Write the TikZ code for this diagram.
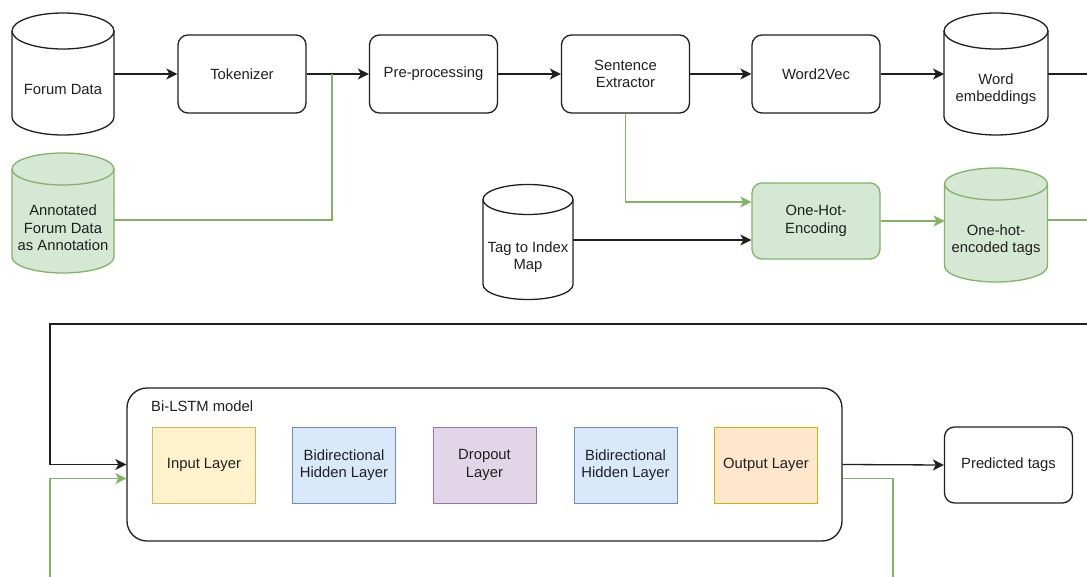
\documentclass[tikz,border=0pt]{standalone}
\usepackage{fontspec}
\setmainfont{Liberation Sans}
\usetikzlibrary{arrows.meta,calc}

\definecolor{inkc}{HTML}{1F1F1F}
\definecolor{greenfill}{HTML}{D5E8D4}
\definecolor{greenline}{HTML}{82B366}
\definecolor{yelfill}{HTML}{FFF2CC}
\definecolor{yelline}{HTML}{D6B656}
\definecolor{bluefill}{HTML}{DAE8FC}
\definecolor{blueline}{HTML}{6C8EBF}
\definecolor{purfill}{HTML}{E1D5E7}
\definecolor{purline}{HTML}{9673A6}
\definecolor{orafill}{HTML}{FFE6CC}
\definecolor{oraline}{HTML}{D7B000}

\tikzset{
  every node/.style={font=\fontsize{14.8}{17.5}\selectfont, text=inkc},
  procbox/.style={draw=inkc, line width=1.3pt, rounded corners=10pt, fill=white,
    minimum width=128pt, minimum height=78pt, align=center, inner sep=2pt},
  greenbox/.style={procbox, draw=greenline, fill=greenfill},
  layerbox/.style={draw=#1line, fill=#1fill, line width=1pt,
    minimum width=103pt, minimum height=76pt, align=center, inner sep=1pt},
  cylframe/.style={minimum width=#1, inner sep=0pt, outer sep=0pt},
  cyltext/.style={align=center, inner sep=0pt},
  tipshape/.style={-{Stealth[length=11pt,width=11pt,inset=3pt]}},
  flow/.style={draw=inkc, line width=1.3pt, tipshape},
  flowplain/.style={draw=inkc, line width=1.3pt},
  gflow/.style={draw=greenline, line width=1.3pt, tipshape},
  gplain/.style={draw=greenline, line width=1.3pt},
}

% database cylinder: name, centre x, centre y, width, height, end radius, colours, text
\newcommand\dbcyl[9]{%
  \node[cylframe=#4pt, minimum height=#5pt] (#1) at (#2,#3) {};
  \path[line width=1.3pt, draw=#8, fill=#7]
    ([yshift=-#6pt]#1.north west) -- ([yshift=#6pt]#1.south west)
    arc[start angle=180, end angle=360, x radius=#4pt/2, y radius=#6pt]
    -- ([yshift=-#6pt]#1.north east)
    arc[start angle=0, end angle=180, x radius=#4pt/2, y radius=#6pt] -- cycle;
  \draw[line width=1.3pt, draw=#8]
    ([yshift=-#6pt]#1.north west)
    arc[start angle=180, end angle=360, x radius=#4pt/2, y radius=#6pt];
  \node[cyltext] at ([yshift=-15pt]#1.center) {#9};
}

\begin{document}
\begin{tikzpicture}[x=1pt, y=-1pt]
\useasboundingbox[fill=white] (0,0) rectangle (1087,577);

% ---- data sources and pre-processing chain ----
\dbcyl{fd}{63}{74}{102}{122}{18}{white}{inkc}{Forum Data}
\dbcyl{ann}{63}{213}{102}{120}{16}{greenfill}{greenline}{Annotated\\Forum Data\\as Annotation}
\node[procbox] (tok) at (242,74) {Tokenizer};
\node[procbox] (pre) at (433.5,74) {Pre-processing};
\node[procbox] (sent) at (625.5,74) {Sentence\\Extractor};
\node[procbox] (w2v) at (816,74) {Word2Vec};
\dbcyl{we}{996}{74}{104}{122}{18}{white}{inkc}{Word\\embeddings}

% ---- tag encoding ----
\dbcyl{tag}{528}{242}{90}{115}{15}{white}{inkc}{Tag to Index\\Map}
\node[greenbox, minimum height=76pt] (ohe) at (816,221) {One-Hot-\\Encoding};
\dbcyl{oht}{996}{225}{103}{114}{16}{greenfill}{greenline}{One-hot-\\encoded tags}

% ---- Bi-LSTM model ----
\node[draw=inkc, line width=1.3pt, rounded corners=20pt, fill=white,
      minimum width=715pt, minimum height=153pt] (model) at (484.5,464.5) {};
\node[anchor=west, inner sep=0pt] (mlabel) at (151,406) {Bi-LSTM model};
\node[layerbox=yel] (inl) at (204,465) {Input Layer};
\node[layerbox=blue] (bh1) at (344,465) {Bidirectional\\Hidden Layer};
\node[layerbox=pur] (drop) at (484.5,465) {Dropout\\Layer};
\node[layerbox=blue] (bh2) at (625.5,465) {Bidirectional\\Hidden Layer};
\node[layerbox=ora] (outl) at (766,465) {Output Layer};
\node[procbox, minimum height=76pt] (pred) at (1008.5,465) {Predicted tags};

% ---- free ends of the long connectors ----
\coordinate (j1) at (332,74);
\coordinate (weout) at (1087,74);
\coordinate (ohtout) at (1087,220);
\coordinate (loopin) at (1087,324);
\coordinate (gin) at (50,577);
\coordinate (gout) at (893,577);

% ---- connectors ----
\draw[flow] (fd.east) -- (tok.west);
\draw[flow] (tok.east) -- (pre.west);
\draw[gplain] ([yshift=-7pt]ann.east) -| (j1);
\draw[flow] (pre.east) -- (sent.west);
\draw[flow] (sent.east) -- (w2v.west);
\draw[flow] (w2v.east) -- (we.west);
\draw[flowplain] (we.east) -- (weout);

\draw[gflow] (sent.south) |- ([yshift=19pt]ohe.west);
\draw[flow] ([yshift=2pt]tag.east) -- ([yshift=2pt]tag.east -| ohe.west);
\draw[gflow] (ohe.east) -- (ohe.east -| oht.west);
\draw[gplain] ([yshift=5pt]oht.east) -- (ohtout);

\draw[flow] (loopin) -- (50,324) |- (model.west);
\draw[gflow] (gin) |- ([yshift=-14pt]model.west);
\draw[flow] (model.east) -- (pred.west);
\draw[gplain] ([yshift=-14pt]model.east) -| (gout);
\end{tikzpicture}
\end{document}
